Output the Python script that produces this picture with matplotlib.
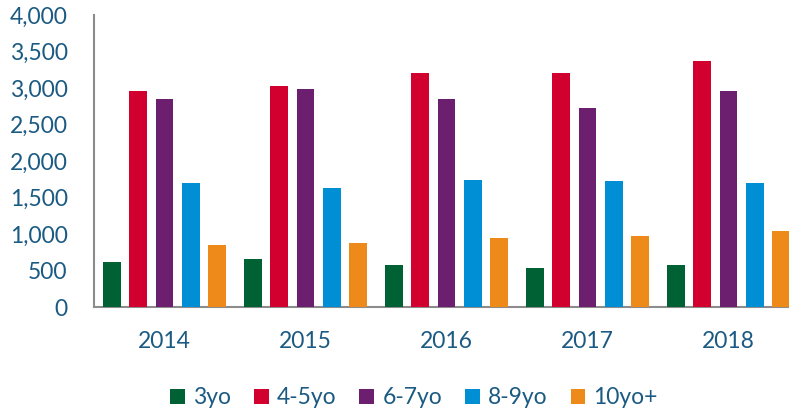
import matplotlib
matplotlib.use("Agg")
import matplotlib.pyplot as plt
import numpy as np
from matplotlib.patches import Patch

years = ["2014", "2015", "2016", "2017", "2018"]
series_names = ["3yo", "4-5yo", "6-7yo", "8-9yo", "10yo+"]
v_3yo = [612, 653, 575, 530, 580]
v_4_5yo = [2959, 3023, 3205, 3201, 3366]
v_6_7yo = [2845, 2982, 2845, 2722, 2955]
v_8_9yo = [1694, 1626, 1740, 1721, 1699]
v_10yo = [849, 872, 941, 973, 1041]
colors = ["#006134", "#D2002E", "#6D1F6F", "#008FD5", "#EE8A1A"]
text_color = "#1B5A82"

plt.rcParams['font.family'] = ['Lato', 'DejaVu Sans']

W, H = 789, 413
fig = plt.figure(figsize=(W / 100, H / 100), dpi=100)
left, right = 94, 799
bottom, top = 307, 15
ax = fig.add_axes([left / W, (H - bottom) / H, (right - left) / W, (bottom - top) / H])

x = np.arange(len(years))
pitch = 26.3 / 141
width = 17.7 / 141
all_vals = [v_3yo, v_4_5yo, v_6_7yo, v_8_9yo, v_10yo]
for j, (vals, c) in enumerate(zip(all_vals, colors)):
    ax.bar(x + (j - 2) * pitch, vals, width=width, color=c, zorder=3)

ax.set_xlim(-0.5, 4.5)
ax.set_ylim(0, 4000)
ax.set_yticks(np.arange(0, 4001, 500))
ax.set_yticklabels([f"{v:,}" for v in range(0, 4001, 500)])
ax.set_xticks(x)
ax.set_xticklabels(years)
ax.tick_params(axis='both', length=0, labelsize=16.5, labelcolor=text_color)
ax.tick_params(axis='y', pad=19)
ax.tick_params(axis='x', pad=17)
for s in ["top", "right"]:
    ax.spines[s].set_visible(False)
for s in ["left", "bottom"]:
    ax.spines[s].set_color("#8C8C8C")
    ax.spines[s].set_linewidth(1.5)

handles = [Patch(facecolor=c, edgecolor='none', label=n) for c, n in zip(colors, series_names)]
fig.legend(handles=handles, loc='center', bbox_to_anchor=(414 / W, (H - 398) / H), ncol=5,
           frameon=False, fontsize=16.5, labelcolor=text_color,
           handlelength=0.65, handleheight=0.65, handletextpad=0.35,
           columnspacing=1.0, borderpad=0, borderaxespad=0)

fig.savefig("out.png", dpi=100)
